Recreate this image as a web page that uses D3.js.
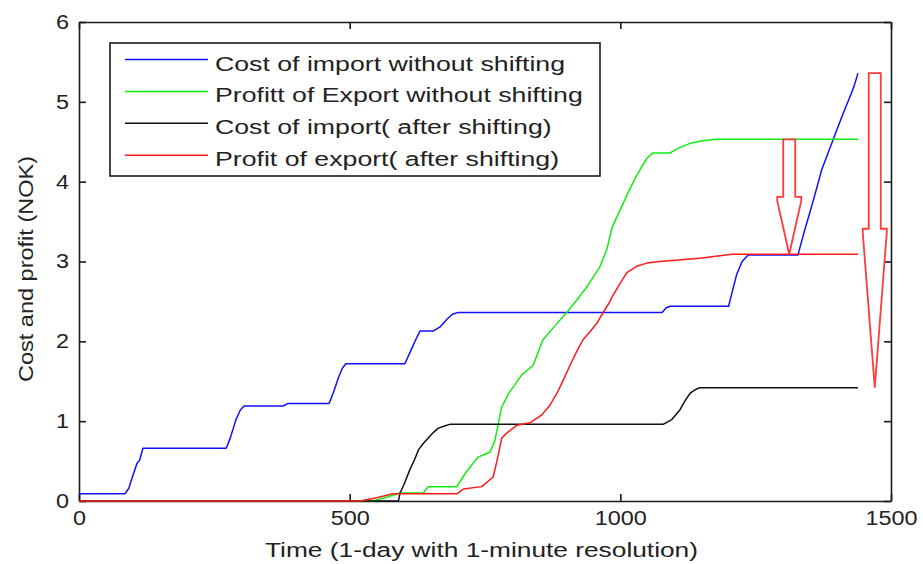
<!DOCTYPE html>
<html>
<head>
<meta charset="utf-8">
<script src="https://cdn.jsdelivr.net/npm/d3@7"></script>
<style>
  html, body { margin: 0; padding: 0; background: #fff; }
  svg { display: block; font-family: "Liberation Sans", Arial, sans-serif; }
</style>
</head>
<body>
<svg id="chart" width="923" height="564"></svg>
<script>
// Cumulative cost / profit over one day, minute resolution: [minute, NOK]
const costImportNoShift = [
  [0,0.09],[85,0.09],[92,0.16],[100,0.33],[107,0.47],[112,0.51],[118,0.66],
  [272,0.66],[280,0.8],[290,1.02],[298,1.14],[305,1.19],[377,1.19],[385,1.22],
  [462,1.22],[470,1.36],[480,1.56],[487,1.67],[493,1.72],[602,1.72],[610,1.84],
  [622,2.02],[630,2.13],[655,2.13],[667,2.18],[680,2.28],[690,2.34],[700,2.36],
  [1077,2.36],[1085,2.42],[1092,2.44],[1200,2.44],[1206,2.6],[1215,2.84],
  [1225,3.0],[1236,3.08],[1328,3.08],[1340,3.38],[1350,3.61],[1360,3.85],
  [1372,4.15],[1386,4.4],[1400,4.65],[1412,4.86],[1424,5.06],[1432,5.2],[1439,5.36]
];
const profitExportNoShift = [
  [0,0],[543,0],[570,0.05],[593,0.1],[636,0.1],[645,0.18],[698,0.18],[715,0.36],
  [737,0.55],[759,0.61],[768,0.75],[774,0.95],[781,1.18],[795,1.36],[818,1.58],
  [839,1.7],[857,2.02],[880,2.2],[901,2.36],[920,2.52],[940,2.7],[962,2.93],
  [975,3.15],[985,3.43],[1000,3.65],[1014,3.86],[1028,4.05],[1040,4.19],
  [1050,4.3],[1060,4.36],[1092,4.36],[1110,4.43],[1129,4.48],[1150,4.51],
  [1175,4.53],[1439,4.53]
];
const costImportShifted = [
  [0,0],[590,0],[593,0.1],[600,0.2],[611,0.39],[620,0.52],[627,0.64],[636,0.72],
  [645,0.79],[655,0.86],[663,0.91],[675,0.94],[685,0.96],[1079,0.96],[1095,1.02],
  [1110,1.14],[1120,1.26],[1129,1.35],[1140,1.4],[1147,1.42],[1439,1.42]
];
const profitExportShifted = [
  [0,0],[519,0],[550,0.04],[580,0.09],[698,0.09],[710,0.15],[744,0.18],[765,0.3],
  [772,0.5],[781,0.79],[790,0.85],[809,0.95],[833,0.98],[855,1.08],[870,1.2],
  [883,1.35],[895,1.52],[907,1.7],[920,1.88],[931,2.02],[944,2.12],[957,2.23],
  [970,2.38],[981,2.5],[985,2.56],[1000,2.73],[1012,2.86],[1030,2.94],[1049,2.98],
  [1073,3.0],[1147,3.04],[1180,3.07],[1206,3.09],[1439,3.09]
];

const seriesLabels = [
  "Cost of import without shifting",
  "Profitt of Export without shifting",
  "Cost of import( after shifting)",
  "Profit of export( after shifting)"
];
const seriesColors = ["#1010ff", "#10ee10", "#111111", "#ff1a1a"];
const xTicks = [0, 500, 1000, 1500];
const yTicks = [0, 1, 2, 3, 4, 5, 6];

// Block arrows showing the drop after shifting: minute, from value, head start, tip value
const shiftArrows = [
  { minute: 1312, from: 4.53, head: 3.81, to: 3.09 },
  { minute: 1470, from: 5.36, head: 3.41, to: 1.42 }
];

const svg = d3.select("#chart");
const x = d3.scaleLinear().domain([0, 1500]).range([79, 891]);
const y = d3.scaleLinear().domain([0, 6]).range([501, 22]);

// horizontally widen text to its drawn width
function stretch(sel, k) {
  sel.each(function () {
    const L = this.getComputedTextLength();
    d3.select(this).attr("textLength", L * k).attr("lengthAdjust", "spacingAndGlyphs");
  });
}

// Axes (MATLAB-style box with inward ticks)
const tickLen = 7;
const axisStyle = g => {
  g.selectAll(".domain").attr("stroke", "#1a1a1a").attr("stroke-width", 1.6);
  g.selectAll(".tick line").attr("stroke", "#1a1a1a").attr("stroke-width", 1.6);
  g.selectAll(".tick text").attr("fill", "#222").attr("font-size", 20)
    .attr("font-family", "Liberation Sans, Arial, sans-serif");
};

const gx = svg.append("g").attr("transform", `translate(0,${y(0)})`)
  .call(d3.axisBottom(x).tickValues(xTicks).tickSizeInner(-tickLen).tickSizeOuter(0).tickPadding(10).tickFormat(d3.format("d")))
  .call(axisStyle);
gx.selectAll(".tick text").attr("dy", "0.72em");
stretch(gx.selectAll(".tick text"), 1.17);

const gy = svg.append("g").attr("transform", `translate(${x(0)},0)`)
  .call(d3.axisLeft(y).tickValues(yTicks).tickSizeInner(-tickLen).tickSizeOuter(0).tickPadding(10).tickFormat(d3.format("d")))
  .call(axisStyle);
stretch(gy.selectAll(".tick text"), 1.17);

svg.append("g").attr("transform", `translate(0,${y(6)})`)
  .call(d3.axisTop(x).tickValues(xTicks).tickSizeInner(-tickLen).tickSizeOuter(0).tickFormat(""))
  .call(axisStyle);
svg.append("g").attr("transform", `translate(${x(1500)},0)`)
  .call(d3.axisRight(y).tickValues(yTicks).tickSizeInner(-tickLen).tickSizeOuter(0).tickFormat(""))
  .call(axisStyle);

// Axis titles
svg.append("text")
  .attr("x", 481.5).attr("y", 557)
  .attr("text-anchor", "middle").attr("font-size", 20).attr("fill", "#222")
  .text("Time (1-day with 1-minute resolution)")
  .attr("textLength", 433).attr("lengthAdjust", "spacingAndGlyphs");

svg.append("text")
  .attr("transform", "translate(33,269) rotate(-90)")
  .attr("text-anchor", "middle").attr("font-size", 20).attr("fill", "#222")
  .text("Cost and profit (NOK)")
  .attr("textLength", 226).attr("lengthAdjust", "spacingAndGlyphs");

// Series lines, in plotting order
const line = d3.line().x(d => x(d[0])).y(d => y(d[1]));
const allSeries = [costImportNoShift, profitExportNoShift, costImportShifted, profitExportShifted];
svg.append("g").selectAll("path")
  .data(allSeries)
  .join("path")
  .attr("d", line)
  .attr("fill", "none")
  .attr("stroke", (d, i) => seriesColors[i])
  .attr("stroke-width", 1.5)
  .attr("stroke-linejoin", "round");

// Shift arrows
const shaftHalf = 6, headHalf = 12, notch = 4;
svg.append("g").selectAll("path")
  .data(shiftArrows)
  .join("path")
  .attr("d", a => {
    const cx = x(a.minute), yt = y(a.from), yh = y(a.head), yp = y(a.to);
    return `M${cx - shaftHalf},${yt}H${cx + shaftHalf}V${yh}H${cx + headHalf}V${yh + notch}` +
           `L${cx},${yp}L${cx - headHalf},${yh + notch}V${yh}H${cx - shaftHalf}Z`;
  })
  .attr("fill", "none")
  .attr("stroke", "#ff3b3b")
  .attr("stroke-width", 1.8)
  .attr("stroke-linejoin", "miter");

// Legend
const legend = svg.append("g");
legend.append("rect")
  .attr("x", 110).attr("y", 43).attr("width", 490).attr("height", 133)
  .attr("fill", "#fff").attr("stroke", "#1a1a1a").attr("stroke-width", 1.6);
const rowY = i => 59.5 + i * 31.9;
const rows = legend.selectAll("g.row").data(seriesLabels).join("g").attr("class", "row");
rows.append("line")
  .attr("x1", 125).attr("x2", 208)
  .attr("y1", (d, i) => rowY(i)).attr("y2", (d, i) => rowY(i))
  .attr("stroke", (d, i) => seriesColors[i]).attr("stroke-width", 1.5);
const labels = rows.append("text")
  .attr("x", 215).attr("y", (d, i) => rowY(i) + 11)
  .attr("font-size", 20).attr("fill", "#222")
  .text(d => d);
// common widening factor so the first entry spans its drawn width
const firstLen = labels.node().getComputedTextLength();
stretch(labels, 350 / firstLen);
</script>
</body>
</html>
